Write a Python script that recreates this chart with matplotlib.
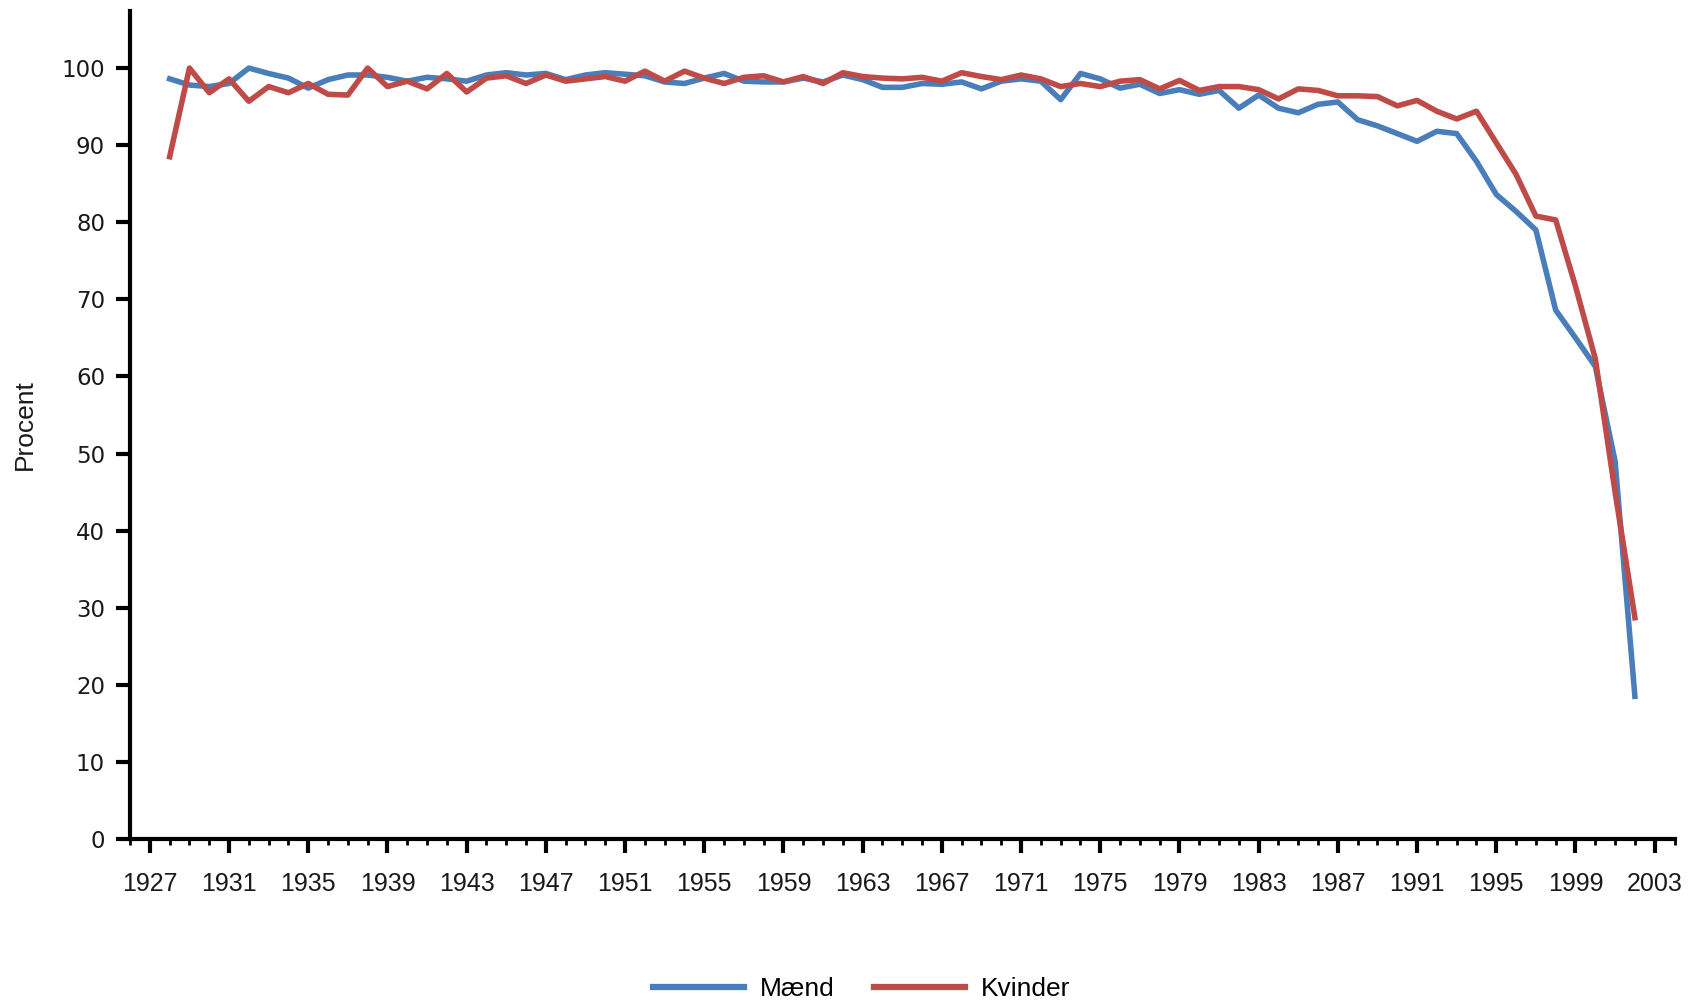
import matplotlib
matplotlib.use('Agg')
import matplotlib.pyplot as plt
from matplotlib.ticker import MultipleLocator

years = list(range(1928, 2003))

maend = [98.6, 97.8, 97.6, 98.0, 100.0, 99.3, 98.7, 97.4, 98.5, 99.1,
         99.1, 98.8, 98.3, 98.8, 98.6, 98.3, 99.1, 99.4, 99.1, 99.3,
         98.5, 99.1, 99.4, 99.2, 99.0, 98.2, 98.0, 98.7, 99.3, 98.3,
         98.2, 98.2, 98.7, 98.2, 99.1, 98.5, 97.5, 97.5, 98.0, 97.9,
         98.2, 97.3, 98.3, 98.6, 98.3, 95.9, 99.3, 98.6, 97.4, 97.9,
         96.7, 97.2, 96.6, 97.1, 94.8, 96.5, 94.8, 94.2, 95.3, 95.6,
         93.3, 92.5, 91.5, 90.5, 91.8, 91.5, 87.9, 83.6, 81.4, 79.0,
         68.6, 65.0, 61.3, 49.0, 18.5]

kvinder = [88.5, 100.0, 96.8, 98.6, 95.7, 97.6, 96.8, 98.0, 96.6, 96.5,
           100.0, 97.6, 98.3, 97.3, 99.3, 96.9, 98.7, 99.0, 98.0, 99.1,
           98.3, 98.6, 98.9, 98.3, 99.6, 98.3, 99.6, 98.7, 98.0, 98.8,
           99.0, 98.2, 98.9, 98.0, 99.4, 98.9, 98.7, 98.6, 98.8, 98.3,
           99.4, 98.9, 98.5, 99.1, 98.6, 97.6, 98.0, 97.6, 98.3, 98.5,
           97.3, 98.4, 97.1, 97.6, 97.6, 97.2, 96.0, 97.3, 97.1, 96.4,
           96.4, 96.3, 95.1, 95.8, 94.4, 93.4, 94.4, 90.3, 86.2, 80.8,
           80.3, 71.7, 62.3, 45.0, 28.7]

x_ticks = list(range(1927, 2004, 4))
y_ticks = list(range(0, 101, 10))

sans = 'Liberation Sans'

fig = plt.figure(figsize=(17, 10.02), dpi=100)
ax = fig.add_axes([0.0765, 0.1627, 0.9085, 0.8263])

ax.plot(years, maend, color='#4A7EBB', lw=4, label='Mænd')
ax.plot(years, kvinder, color='#BE4B48', lw=4, label='Kvinder')

ax.set_xlim(1926, 2004)
ax.set_ylim(0, 107.4)

ax.spines['top'].set_visible(False)
ax.spines['right'].set_visible(False)
ax.spines['left'].set_linewidth(3)
ax.spines['bottom'].set_linewidth(3)

ax.set_xticks(x_ticks)
ax.set_xticklabels([str(y) for y in x_ticks], family=sans, fontsize=18, color='#1a1a1a')
ax.xaxis.set_minor_locator(MultipleLocator(1))
ax.set_yticks(y_ticks)
ax.set_yticklabels([str(v) for v in y_ticks], family='DejaVu Sans', fontsize=16.5, color='#1a1a1a')

ax.tick_params(axis='x', which='major', direction='out', length=10, width=3, pad=14)
ax.tick_params(axis='x', which='minor', direction='out', length=4, width=2)
ax.tick_params(axis='y', which='major', direction='out', length=10, width=3, pad=8)

ax.set_ylabel('Procent', family=sans, fontsize=19, labelpad=18, color='#1a1a1a')

leg = fig.legend(loc='center', bbox_to_anchor=(0.507, 0.013), ncol=2, frameon=False,
                 prop={'family': sans, 'size': 19}, handlelength=3.45,
                 columnspacing=1.5, handletextpad=0.6)
for line in leg.get_lines():
    line.set_linewidth(4.5)

fig.savefig('out.png', dpi=100)
